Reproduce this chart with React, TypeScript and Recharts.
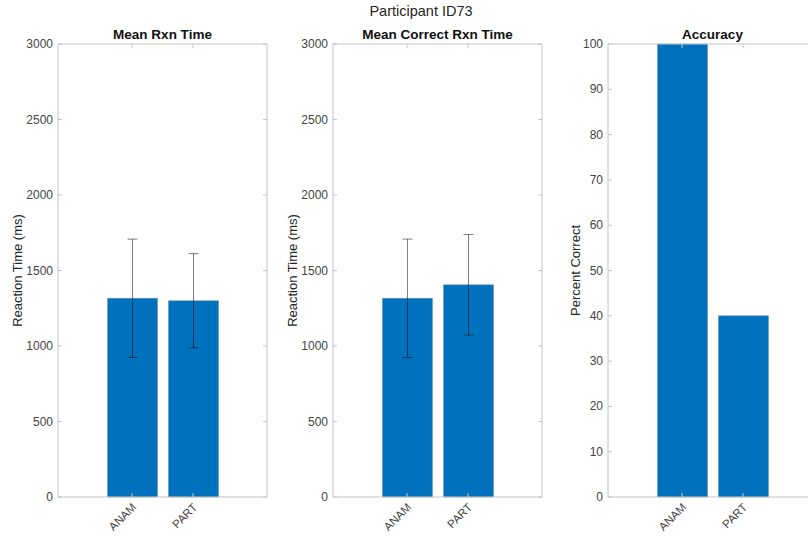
import React from "react";
import { BarChart, Bar, XAxis, YAxis, ErrorBar } from "recharts";

const categories = ["ANAM", "PART"];
const meanRxnTime = [1316, 1300];
const meanRxnTimeSd = [392, 312];
const meanCorrectRxnTime = [1316, 1405];
const meanCorrectRxnTimeSd = [392, 333];
const accuracy = [100, 40];
const rtTicks = [0, 500, 1000, 1500, 2000, 2500, 3000];
const accTicks = [0, 10, 20, 30, 40, 50, 60, 70, 80, 90, 100];

const FONT = "'Liberation Sans', Arial, Helvetica, sans-serif";
const AXIS = "#c4c4c4";
const TICK_TEXT = "#444";
const BAR = "#0072BD";
const PLOT_W = 209;
const PLOT_H = 453;
const AXIS_W = 58;

// left tick labels + inward ticks on both sides; the top and right edges of the box too
const YTick = (props: any) => {
  const { x, y, payload, max } = props;
  const r = x + PLOT_W;
  return (
    <g>
      <line x1={x} x2={x + 4} y1={y} y2={y} stroke={AXIS} />
      <line x1={r - 4} x2={r} y1={y} y2={y} stroke={AXIS} />
      {payload.value === max && <line x1={x} x2={r} y1={y} y2={y} stroke={AXIS} />}
      {payload.value === 0 && <line x1={r} x2={r} y1={y} y2={y - PLOT_H} stroke={AXIS} />}
      <text x={x - 5} y={y} dy={4} textAnchor="end" fontSize={12} fill={TICK_TEXT} fontFamily={FONT}>
        {payload.value}
      </text>
    </g>
  );
};

const XTick = (props: any) => {
  const { x, y, payload } = props;
  const tx = x + 5;
  const ty = y + 11;
  return (
    <g>
      <line x1={x} x2={x} y1={y} y2={y - 4} stroke={AXIS} />
      <line x1={x} x2={x} y1={y - PLOT_H} y2={y - PLOT_H + 4} stroke={AXIS} />
      <text
        x={tx}
        y={ty}
        textAnchor="end"
        fontSize={11.5}
        fill={TICK_TEXT}
        fontFamily={FONT}
        transform={`rotate(-45, ${tx}, ${ty})`}
      >
        {payload.value}
      </text>
    </g>
  );
};

interface PanelProps {
  left: number;
  title: string;
  yLabel: string;
  labelOffset: number;
  values: number[];
  errs?: number[];
  ticks: number[];
}

const Panel = ({ left, title, yLabel, labelOffset, values, errs, ticks }: PanelProps) => {
  const rows = categories.map((name, i) => ({
    name,
    value: values[i],
    err: errs ? errs[i] : 0,
  }));
  const max = ticks[ticks.length - 1];
  return (
    <div style={{ position: "absolute", left: left - AXIS_W, top: 0 }}>
      <div
        style={{
          position: "absolute",
          left: AXIS_W,
          width: PLOT_W,
          top: 27,
          textAlign: "center",
          fontFamily: FONT,
          fontWeight: "bold",
          fontSize: 13.5,
          color: "#111",
          whiteSpace: "nowrap",
        }}
      >
        {title}
      </div>
      <BarChart
        width={AXIS_W + PLOT_W + 2}
        height={540}
        data={rows}
        margin={{ top: 44, right: 2, bottom: 0, left: 0 }}
      >
        <XAxis
          dataKey="name"
          height={43}
          padding={{ left: 43.5, right: 43.5 }}
          stroke={AXIS}
          tickLine={false}
          tickSize={0}
          tickMargin={0}
          tick={<XTick />}
          interval={0}
        />
        <YAxis
          width={AXIS_W}
          domain={[0, max]}
          ticks={ticks}
          interval={0}
          stroke={AXIS}
          tickLine={false}
          tickSize={0}
          tickMargin={0}
          tick={<YTick max={max} />}
          label={{
            value: yLabel,
            angle: -90,
            position: "insideLeft",
            offset: labelOffset,
            style: { textAnchor: "middle", fontSize: 13, fill: "#262626", fontFamily: FONT },
          }}
        />
        <Bar dataKey="value" fill={BAR} stroke="#6d8aa3" strokeWidth={0.5} barSize={50} isAnimationActive={false}>
          {errs && (
            <ErrorBar dataKey="err" width={5} stroke="rgba(0,0,0,0.5)" strokeWidth={1} />
          )}
        </Bar>
      </BarChart>
    </div>
  );
};

const App: React.FC = () => {
  return (
    <div
      style={{
        position: "absolute",
        left: 0,
        top: 0,
        width: 808,
        height: 540,
        overflow: "hidden",
        background: "#fff",
      }}
    >
      <div
        style={{
          position: "absolute",
          left: 0,
          width: 842,
          top: 3,
          textAlign: "center",
          fontFamily: FONT,
          fontSize: 14.5,
          color: "#262626",
        }}
      >
        Participant ID73
      </div>
      <Panel
        left={58}
        title="Mean Rxn Time"
        yLabel="Reaction Time (ms)"
        labelOffset={17}
        values={meanRxnTime}
        errs={meanRxnTimeSd}
        ticks={rtTicks}
      />
      <Panel
        left={333}
        title="Mean Correct Rxn Time"
        yLabel="Reaction Time (ms)"
        labelOffset={17}
        values={meanCorrectRxnTime}
        errs={meanCorrectRxnTimeSd}
        ticks={rtTicks}
      />
      <Panel
        left={608}
        title="Accuracy"
        yLabel="Percent Correct"
        labelOffset={25}
        values={accuracy}
        ticks={accTicks}
      />
    </div>
  );
};

export default App;
